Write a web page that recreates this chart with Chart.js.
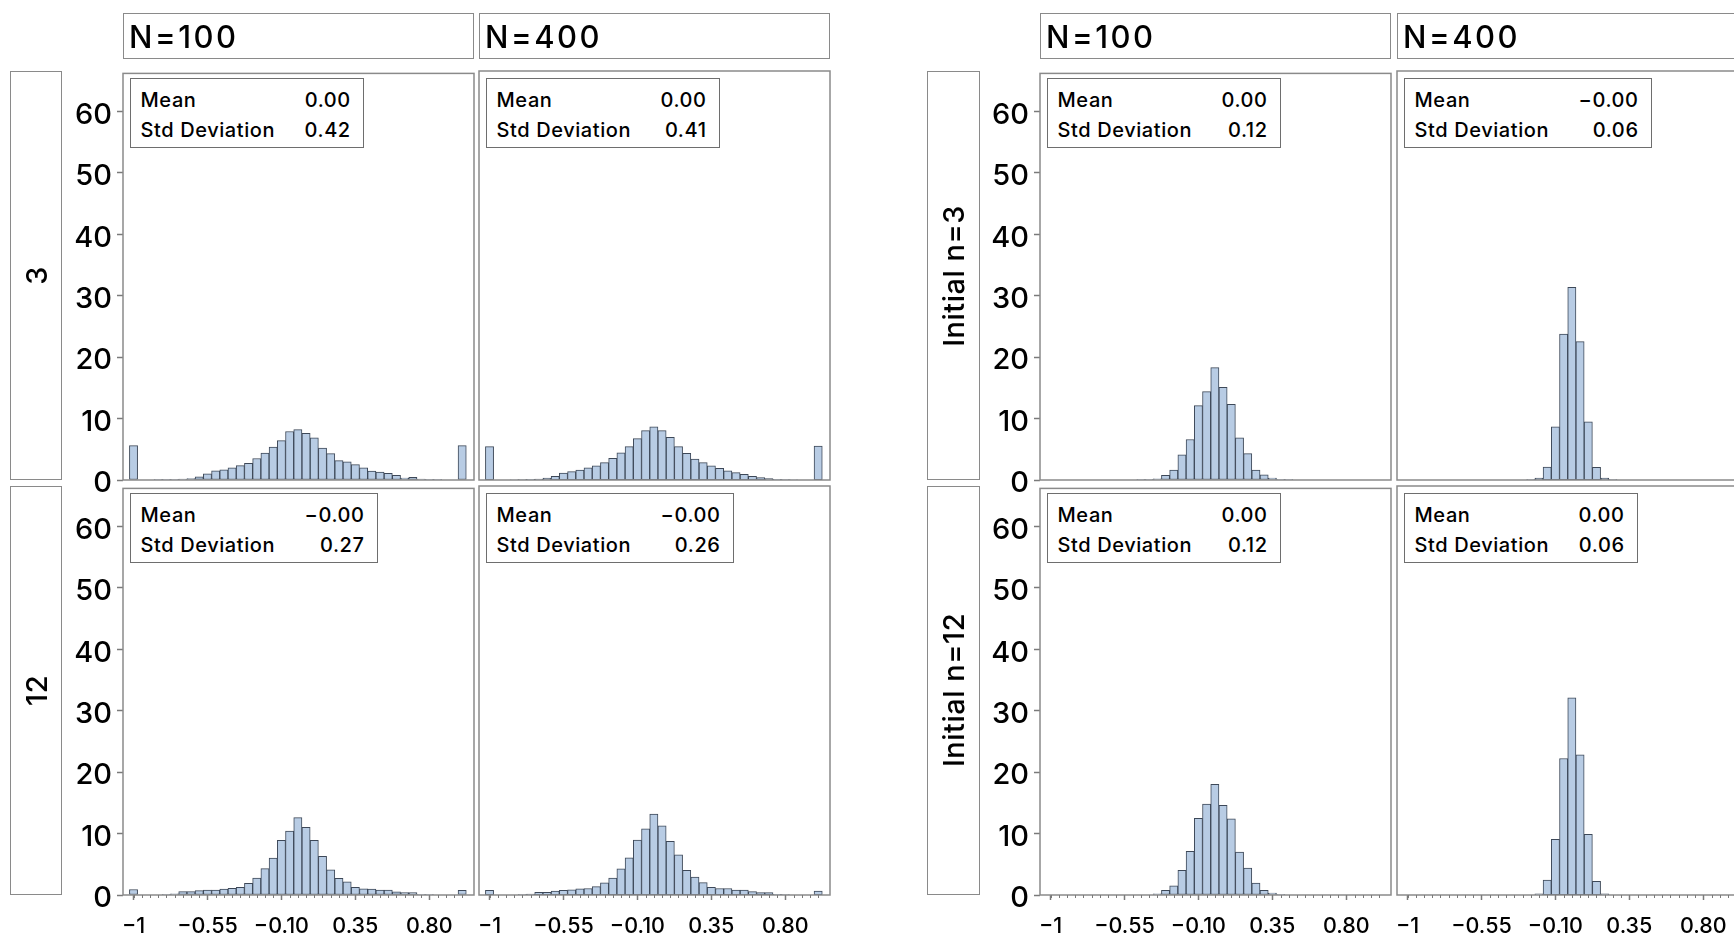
<!DOCTYPE html>
<html>
<head>
<meta charset="utf-8">
<script src="https://cdn.jsdelivr.net/npm/chart.js@4.4.1/dist/chart.umd.min.js"></script>
<style>
  html, body { margin: 0; padding: 0; background: #fff; }
  #page { position: relative; width: 1734px; height: 938px; overflow: hidden; background: #fff;
          font-family: Inter, "Liberation Sans", Arial, sans-serif; font-weight: 500; color: #000; }
  #page canvas { position: absolute; }
  .frame { position: absolute; box-sizing: border-box; border: 1.5px solid #8a8a8a; }
  .hdr { display: flex; align-items: center; padding-left: 5px; font-size: 31px; letter-spacing: 2.5px; }
  .rowlab { display: flex; align-items: center; justify-content: center; }
  .rowlab span { writing-mode: vertical-rl; transform: rotate(180deg); font-size: 29px; letter-spacing: 0.5px; white-space: nowrap; }
  .inset { position: absolute; box-sizing: border-box; border: 1.5px solid #6e6e6e; background: #fff;
           padding: 6px 12px 2px 10px; display: grid; grid-template-columns: 164px auto;
           font-size: 20px; letter-spacing: 0.6px; line-height: 30px; }
  .inset .v { text-align: right; letter-spacing: 0.6px; }
</style>
</head>
<body>
<div id="page"></div>
<script>
// Histogram classes (width 0.05), in percent of replications
const binCenters = [-1.00, -0.95, -0.90, -0.85, -0.80, -0.75, -0.70, -0.65, -0.60, -0.55,
                    -0.50, -0.45, -0.40, -0.35, -0.30, -0.25, -0.20, -0.15, -0.10, -0.05,
                     0.00,  0.05,  0.10,  0.15,  0.20,  0.25,  0.30,  0.35,  0.40,  0.45,
                     0.50,  0.55,  0.60,  0.65,  0.70,  0.75,  0.80,  0.85,  0.90,  0.95, 1.00];

const xTickValues = [-1, -0.55, -0.10, 0.35, 0.80];
const xTickLabels = ['\u22121', '\u22120.55', '\u22120.10', '0.35', '0.80'];
const yTickValues = [0, 10, 20, 30, 40, 50, 60];

const columnLabels = ['N=100', 'N=400'];
const leftRowLabels = ['3', '12'];
const rightRowLabels = ['Initial n=3', 'Initial n=12'];

const pctRow3N100 = [5.6, 0, 0, 0.02, 0.05, 0.1, 0.15, 0.25, 0.5, 1.0, 1.5, 1.65, 2.0, 2.35, 2.7, 3.5, 4.4, 5.35, 6.4, 7.9,
                     8.2, 7.6, 6.85, 5.2, 4.3, 3.15, 2.95, 2.5, 2.0, 1.45, 1.3, 1.07, 0.75, 0.3, 0.45, 0.15, 0.05, 0.02, 0, 0, 5.6];
const pctRow3N400 = [5.4, 0, 0, 0.02, 0.05, 0.1, 0.15, 0.3, 0.6, 1.1, 1.35, 1.6, 1.95, 2.3, 2.8, 3.5, 4.4, 5.4, 6.7, 8.0,
                     8.6, 8.0, 6.9, 5.4, 4.3, 3.4, 2.8, 2.3, 1.9, 1.5, 1.2, 0.9, 0.6, 0.4, 0.25, 0.1, 0.05, 0.02, 0, 0, 5.5];
const pctRow12N100 = [0.9, 0, 0, 0, 0.1, 0.2, 0.55, 0.55, 0.7, 0.8, 0.8, 0.95, 1.1, 1.25, 1.9, 2.75, 4.3, 6.0, 8.9, 10.4,
                      12.6, 11.0, 8.9, 6.3, 4.1, 2.7, 2.15, 1.25, 1.0, 0.95, 0.8, 0.8, 0.5, 0.4, 0.4, 0.1, 0.05, 0, 0, 0, 0.75];
const pctRow12N400 = [0.75, 0, 0, 0, 0.05, 0.15, 0.45, 0.45, 0.65, 0.75, 0.85, 1.0, 1.05, 1.35, 1.95, 2.75, 4.25, 6.0, 8.9, 10.7,
                      13.1, 11.2, 8.7, 6.5, 4.0, 2.9, 2.0, 1.25, 1.05, 1.05, 0.8, 0.8, 0.55, 0.4, 0.4, 0.1, 0.05, 0, 0, 0, 0.65];
const pctInit3N100 = [0, 0, 0, 0, 0, 0, 0, 0, 0, 0, 0, 0.02, 0.1, 0.2, 0.75, 1.6, 4.1, 6.6, 12.1, 14.4,
                      18.3, 15.1, 12.3, 6.85, 4.3, 1.6, 0.85, 0.3, 0.05, 0.02, 0, 0, 0, 0, 0, 0, 0, 0, 0, 0, 0];
const pctInit3N400 = [0, 0, 0, 0, 0, 0, 0, 0, 0, 0, 0, 0, 0, 0, 0, 0.05, 0.3, 2.1, 8.6, 23.6,
                      31.2, 22.4, 9.4, 2.05, 0.3, 0.05, 0, 0, 0, 0, 0, 0, 0, 0, 0, 0, 0, 0, 0, 0, 0];
const pctInit12N100 = [0, 0, 0, 0, 0, 0, 0, 0, 0, 0, 0, 0, 0, 0.2, 0.75, 1.5, 4.0, 7.1, 12.5, 14.8,
                       18.0, 14.6, 12.4, 7.0, 4.4, 1.95, 0.75, 0.3, 0.05, 0, 0, 0, 0, 0, 0, 0, 0, 0, 0, 0, 0];
const pctInit12N400 = [0, 0, 0, 0, 0, 0, 0, 0, 0, 0, 0, 0, 0, 0, 0, 0, 0.2, 2.4, 9.0, 22.1,
                       31.9, 22.7, 9.8, 2.2, 0.2, 0, 0, 0, 0, 0, 0, 0, 0, 0, 0, 0, 0, 0, 0, 0, 0];

// summary statistics shown in each cell (panel order: left block, then right block; top row first)
const meanText = ['0.00', '0.00', '\u22120.00', '\u22120.00', '0.00', '\u22120.00', '0.00', '0.00'];
const sdText   = ['0.42', '0.41', '0.27', '0.26', '0.12', '0.06', '0.12', '0.06'];

// ---- layout of the two lattices ----
const colX = [123, 479, 1040, 1397];
const PW = 351;
const rowY = [71, 486];
const PH = 409;
const HDR_Y = 13, HDR_H = 46;
const ML = 80, MT = 20, MR = 20, MB = 60;
const X_MIN = -1.064, X_MAX = 1.072;
const Y_MAX = 66.2;

const FONT = 'Inter, "Liberation Sans", Arial, sans-serif';
const BAR_FILL = '#b8cce4';
const BAR_EDGE = '#3d4858';
const FRAME = '#8a8a8a';
const TICK = '#7a7a7a';

const panels = [
  { col: 0, row: 0, values: pctRow3N100 },
  { col: 1, row: 0, values: pctRow3N400 },
  { col: 0, row: 1, values: pctRow12N100 },
  { col: 1, row: 1, values: pctRow12N400 },
  { col: 2, row: 0, values: pctInit3N100 },
  { col: 3, row: 0, values: pctInit3N400 },
  { col: 2, row: 1, values: pctInit12N100 },
  { col: 3, row: 1, values: pctInit12N400 }
];

const page = document.getElementById('page');

// box around every cell
const framePlugin = {
  id: 'cellFrame',
  afterDraw(chart) {
    const { ctx, chartArea: a } = chart;
    ctx.save();
    ctx.strokeStyle = FRAME;
    ctx.lineWidth = 1.5;
    ctx.strokeRect(a.left, a.top, a.right - a.left, a.bottom - a.top);
    ctx.restore();
  }
};

// short minor ticks at every class midpoint
const minorTickPlugin = {
  id: 'minorTicks',
  afterDraw(chart) {
    const { ctx, chartArea: a } = chart;
    const xs = chart.scales.x;
    ctx.save();
    ctx.strokeStyle = TICK;
    ctx.lineWidth = 1;
    ctx.beginPath();
    binCenters.forEach(v => {
      const px = Math.round(xs.getPixelForValue(v)) + 0.5;
      ctx.moveTo(px, a.bottom);
      ctx.lineTo(px, a.bottom + 3);
    });
    ctx.stroke();
    ctx.restore();
  }
};

function makeCell(p) {
  const showY = (p.col === 0 || p.col === 2);
  const showX = (p.row === 1);
  const W = PW + ML + MR, H = PH + MT + MB;
  const cv = document.createElement('canvas');
  cv.width = W; cv.height = H;
  cv.style.left = (colX[p.col] - ML) + 'px';
  cv.style.top = (rowY[p.row] - MT) + 'px';
  cv.style.width = W + 'px';
  cv.style.height = H + 'px';
  page.appendChild(cv);

  new Chart(cv, {
    type: 'bar',
    data: {
      datasets: [{
        data: binCenters.map((x, i) => ({ x: x, y: p.values[i] })),
        backgroundColor: BAR_FILL,
        borderColor: BAR_EDGE,
        borderWidth: 1,
        borderSkipped: false,
        barPercentage: 1,
        categoryPercentage: 1
      }]
    },
    options: {
      responsive: false,
      animation: false,
      devicePixelRatio: 1,
      events: [],
      layout: { padding: { left: showY ? 0 : ML, top: MT, right: MR, bottom: showX ? 0 : MB } },
      plugins: { legend: { display: false }, tooltip: { enabled: false } },
      scales: {
        x: {
          type: 'linear', min: X_MIN, max: X_MAX, offset: false, display: showX,
          afterFit: s => { if (showX) s.height = MB; },
          afterBuildTicks: s => { s.ticks = xTickValues.map(v => ({ value: v })); },
          ticks: {
            autoSkip: false, maxRotation: 0, minRotation: 0, padding: 14, color: '#000',
            font: { family: FONT, size: 21.5, weight: '500' },
            callback: (v, i) => xTickLabels[i]
          },
          grid: { offset: false, drawOnChartArea: false, drawTicks: true, tickLength: 5, tickColor: TICK, tickWidth: 1.5 },
          border: { display: false }
        },
        y: {
          type: 'linear', min: 0, max: Y_MAX, display: showY,
          afterFit: s => { if (showY) s.width = ML; },
          afterBuildTicks: s => { s.ticks = yTickValues.map(v => ({ value: v })); },
          ticks: {
            padding: 5, labelOffset: 3.5, color: '#000',
            font: { family: FONT, size: 29, weight: '500' },
            callback: v => String(v)
          },
          grid: { drawOnChartArea: false, drawTicks: true, tickLength: 6, tickColor: TICK, tickWidth: 1.5 },
          border: { display: false }
        }
      }
    },
    plugins: showX ? [framePlugin, minorTickPlugin] : [framePlugin]
  });
}

panels.forEach(makeCell);

// column headers
[0, 1, 2, 3].forEach(c => {
  const d = document.createElement('div');
  d.className = 'frame hdr';
  d.style.left = colX[c] + 'px';
  d.style.top = HDR_Y + 'px';
  d.style.width = PW + 'px';
  d.style.height = HDR_H + 'px';
  d.textContent = columnLabels[c % 2];
  page.appendChild(d);
});

// row headers of both blocks
[[10, 52, leftRowLabels], [927, 53, rightRowLabels]].forEach(([x, w, labels]) => {
  labels.forEach((txt, r) => {
    const d = document.createElement('div');
    d.className = 'frame rowlab';
    d.style.left = x + 'px';
    d.style.top = rowY[r] + 'px';
    d.style.width = w + 'px';
    d.style.height = PH + 'px';
    const s = document.createElement('span');
    s.textContent = txt;
    d.appendChild(s);
    page.appendChild(d);
  });
});

// statistics tables in the upper-left corner of each cell
panels.forEach((p, i) => {
  const d = document.createElement('div');
  d.className = 'inset';
  d.style.left = (colX[p.col] + 6.5) + 'px';
  d.style.top = (rowY[p.row] + 6.5) + 'px';
  d.innerHTML = '<div>Mean</div><div class="v">' + meanText[i] + '</div>' +
                '<div>Std Deviation</div><div class="v">' + sdText[i] + '</div>';
  page.appendChild(d);
});
</script>
</body>
</html>
